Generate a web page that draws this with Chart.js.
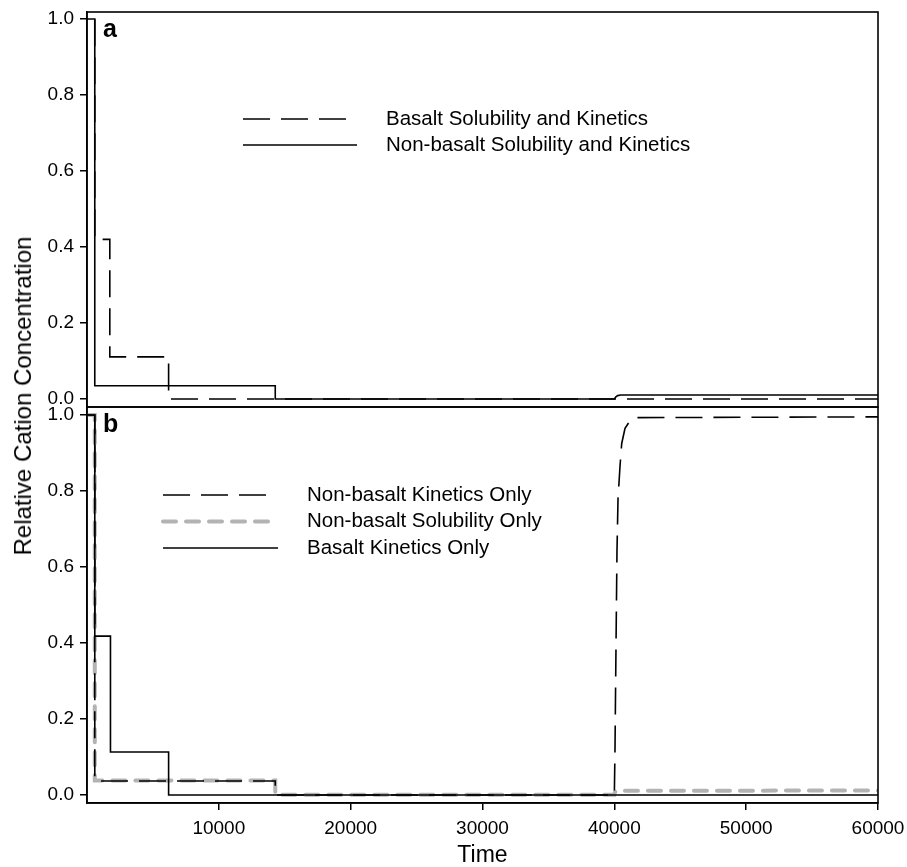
<!DOCTYPE html>
<html>
<head>
<meta charset="utf-8">
<title>Relative cation concentration vs time</title>
<script src="https://cdn.jsdelivr.net/npm/chart.js@4.4.1/dist/chart.umd.min.js"></script>
<style>
  html, body { margin: 0; padding: 0; background: #fff; }
  #wrap { position: relative; width: 907px; height: 867px; font-family: "Liberation Sans", Arial, sans-serif; }
  #chartA { position: absolute; left: 0; top: 0; }
  #chartB { position: absolute; left: 0; top: 395px; }
  #ytitle {
    position: absolute; left: 23px; top: 396px;
    transform: translate(-50%, -50%) rotate(-90deg);
    white-space: nowrap; font-size: 24px; color: #000;
  }
</style>
</head>
<body>
<div id="wrap">
  <canvas id="chartA" width="907" height="420" style="width:907px;height:420px"></canvas>
  <canvas id="chartB" width="907" height="472" style="width:907px;height:472px"></canvas>
  <div id="ytitle">Relative Cation Concentration</div>
</div>
<script>
// ---- data ----
const xTicks = [10000, 20000, 30000, 40000, 50000, 60000];
const yTicks = [0, 0.2, 0.4, 0.6, 0.8, 1.0];

// panel a
const seriesNamesA = ["Basalt Solubility and Kinetics", "Non-basalt Solubility and Kinetics"];
const timeBasaltSK = [0, 590, 590, 1730, 1730, 6190, 6190, 60000];
const concBasaltSK = [1.0, 1.0, 0.42, 0.42, 0.111, 0.111, 0.0, 0.0];
const timeNonBasaltSK = [0, 590, 590, 14280, 14280, 40000, 40100, 40250, 40500, 60000];
const concNonBasaltSK = [1.0, 1.0, 0.035, 0.035, 0.0, 0.0, 0.005, 0.009, 0.0105, 0.0105];

// panel b
const seriesNamesB = ["Non-basalt Kinetics Only", "Non-basalt Solubility Only", "Basalt Kinetics Only"];
const timeNonBasaltK = [0, 590, 590, 14280, 14280, 40000, 40050, 40100, 40150, 40200, 40280, 40430, 40560, 40810, 41190, 41570, 60000];
const concNonBasaltK = [1.0, 1.0, 0.037, 0.037, 0.0, 0.0, 0.12, 0.30, 0.47, 0.64, 0.78, 0.865, 0.925, 0.965, 0.985, 0.993, 0.995];
const timeNonBasaltS = [0, 590, 590, 14280, 14280, 40000, 40050, 40200, 60000];
const concNonBasaltS = [1.0, 1.0, 0.038, 0.038, 0.001, 0.001, 0.008, 0.011, 0.012];
const timeBasaltK = [0, 590, 590, 1780, 1780, 6190, 6190, 60000];
const concBasaltK = [1.0, 1.0, 0.418, 0.418, 0.113, 0.113, 0.0, 0.0];

// ---- helpers ----
const FONT = '"Liberation Sans", Arial, sans-serif';
const BLACK = "#000";
const GREY = "#b3b3b3";
const LONG_DASH = [27, 11];
const GREY_DASH = [13, 10];

function toPoints(xs, ys) {
  return xs.map((x, i) => ({ x: x, y: ys[i] }));
}

function lineSet(label, xs, ys, style) {
  return Object.assign({
    label: label,
    data: toPoints(xs, ys),
    borderColor: BLACK,
    borderWidth: 1.6,
    borderDash: [],
    pointRadius: 0,
    tension: 0,
    fill: false,
  }, style);
}

// labels may hang over the plot edges, like in the original
function noEdgePadding(s) {
  s.paddingTop = 0;
  s.paddingBottom = 0;
  s.paddingLeft = 0;
  s.paddingRight = 0;
}

// box, panel letter and legend drawn on top of the chart area
const panelDecor = {
  id: "panelDecor",
  afterDraw(chart, args, opts) {
    const ctx = chart.ctx;
    const a = chart.chartArea;
    ctx.save();
    ctx.strokeStyle = BLACK;
    ctx.lineWidth = 1.6;
    ctx.setLineDash([]);
    ctx.strokeRect(a.left, a.top, a.right - a.left, a.bottom - a.top);

    ctx.fillStyle = BLACK;
    ctx.font = "bold 25px " + FONT;
    ctx.textBaseline = "alphabetic";
    ctx.textAlign = "left";
    ctx.fillText(opts.letter, a.left + 16, a.top + 25);

    ctx.font = "20.5px " + FONT;
    ctx.textBaseline = "middle";
    opts.entries.forEach((e, i) => {
      const y = opts.y0 + i * opts.dy;
      ctx.beginPath();
      ctx.strokeStyle = e.color;
      ctx.lineWidth = e.width;
      ctx.lineCap = e.cap || "butt";
      ctx.setLineDash(e.dash);
      ctx.moveTo(opts.x1, y);
      ctx.lineTo(e.x2, y);
      ctx.stroke();
      ctx.setLineDash([]);
      ctx.fillText(e.label, opts.xText, y);
    });
    ctx.restore();
  },
};

function yScale(min, max) {
  return {
    min: min,
    max: max,
    afterBuildTicks: (s) => { s.ticks = yTicks.map((v) => ({ value: v })); },
    afterFit: (s) => { s.width = 87; noEdgePadding(s); },
    ticks: {
      callback: (v) => v.toFixed(1),
      color: BLACK,
      font: { size: 19, family: FONT },
      padding: 6,
    },
    grid: { drawOnChartArea: false, tickLength: 7, color: BLACK, lineWidth: 1.5 },
    border: { color: BLACK, width: 1.6 },
  };
}

const basePlugins = {
  legend: { display: false },
  tooltip: { enabled: false },
};

// ---- panel a ----
new Chart(document.getElementById("chartA").getContext("2d"), {
  type: "line",
  data: {
    datasets: [
      lineSet(seriesNamesA[0], timeBasaltSK, concBasaltSK, { borderDash: LONG_DASH, borderDashOffset: 30, order: 1 }),
      lineSet(seriesNamesA[1], timeNonBasaltSK, concNonBasaltSK, { order: 2 }),
    ],
  },
  options: {
    responsive: false,
    animation: false,
    layout: { padding: { left: 0, right: 29, top: 12, bottom: 13 } },
    scales: {
      x: { type: "linear", min: 0, max: 60000, display: false },
      y: yScale(-0.021, 1.0185),
    },
    plugins: Object.assign({}, basePlugins, {
      panelDecor: {
        letter: "a",
        x1: 243, xText: 386, y0: 119, dy: 26,
        entries: [
          { label: seriesNamesA[0], color: BLACK, width: 1.6, dash: LONG_DASH, x2: 346 },
          { label: seriesNamesA[1], color: BLACK, width: 1.6, dash: [], x2: 357 },
        ],
      },
    }),
  },
  plugins: [panelDecor],
});

// ---- panel b ----
new Chart(document.getElementById("chartB").getContext("2d"), {
  type: "line",
  data: {
    datasets: [
      lineSet(seriesNamesB[0], timeNonBasaltK, concNonBasaltK, { borderDash: LONG_DASH, order: 1 }),
      lineSet(seriesNamesB[1], timeNonBasaltS, concNonBasaltS, {
        borderColor: GREY, borderWidth: 4, borderDash: GREY_DASH, borderCapStyle: "round", order: 3,
      }),
      lineSet(seriesNamesB[2], timeBasaltK, concBasaltK, { order: 2 }),
    ],
  },
  options: {
    responsive: false,
    animation: false,
    layout: { padding: { left: 0, right: 29, top: 12, bottom: 0 } },
    scales: {
      x: {
        type: "linear",
        min: 0,
        max: 60000,
        afterBuildTicks: (s) => { s.ticks = xTicks.map((v) => ({ value: v })); },
        afterFit: (s) => { s.height = 64; noEdgePadding(s); },
        ticks: {
          callback: (v) => String(v),
          color: BLACK,
          font: { size: 19, family: FONT },
          padding: 7,
          maxRotation: 0,
        },
        grid: { drawOnChartArea: false, tickLength: 7, color: BLACK, lineWidth: 1.5 },
        border: { color: BLACK, width: 1.6 },
        title: {
          display: true,
          text: "Time",
          color: BLACK,
          font: { size: 23, family: FONT },
          padding: { top: 0, bottom: -2 },
        },
      },
      y: yScale(-0.021, 1.021),
    },
    plugins: Object.assign({}, basePlugins, {
      panelDecor: {
        letter: "b",
        x1: 163, xText: 307, y0: 100, dy: 26.5,
        entries: [
          { label: seriesNamesB[0], color: BLACK, width: 1.6, dash: LONG_DASH, x2: 267 },
          { label: seriesNamesB[1], color: GREY, width: 4, dash: GREY_DASH, cap: "round", x2: 270 },
          { label: seriesNamesB[2], color: BLACK, width: 1.6, dash: [], x2: 278 },
        ],
      },
    }),
  },
  plugins: [panelDecor],
});
</script>
</body>
</html>
